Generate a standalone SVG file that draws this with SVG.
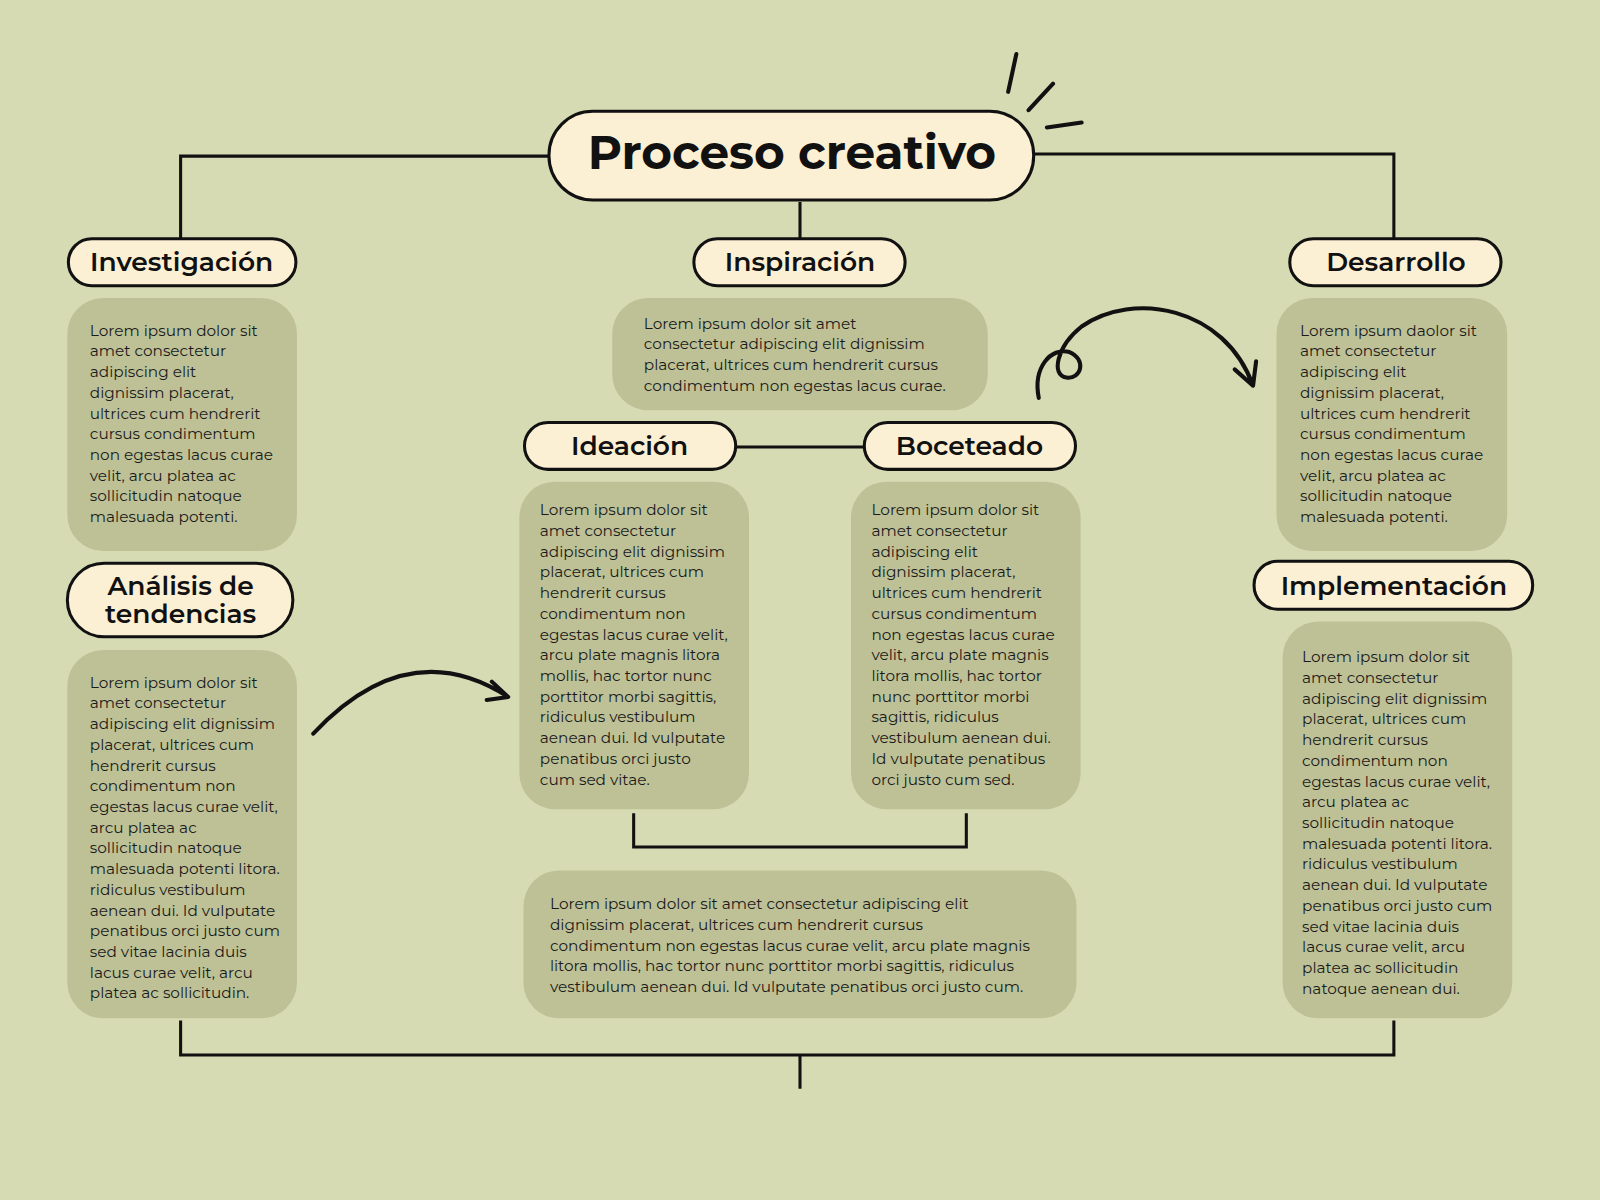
<svg xmlns="http://www.w3.org/2000/svg" width="1600" height="1200" viewBox="0 0 1600 1200">
<defs><style>
.pill{fill:#fcf0d4;stroke:#111;stroke-width:3}
.box{fill:#bec196}
.h{font-family:"Montserrat","Noto Sans","Liberation Sans",sans-serif;font-weight:600;font-size:26px;fill:#111;text-anchor:middle}
.t{font-family:"Montserrat","Noto Sans","Liberation Sans",sans-serif;font-size:15px;fill:#1a1a1a}
.ln{fill:none;stroke:#111;stroke-width:3}
.cv{fill:none;stroke:#111;stroke-width:4;stroke-linecap:round;stroke-linejoin:round}
</style></defs>
<rect width="1600" height="1200" fill="#d7dbb3"/>
<g transform="scale(1.0204)">
<g id="connectors">
<path class="ln" d="M538,153 H177 V234 M1013,151 H1366 V234 M784,198 V234 M721,438 H847 M621,797 V830 H947 V797 M177,1000 V1034 H1366 V1000 M784,1034 V1067"/>
<path class="cv" d="M307,719 Q400,620 498,683 M482,668 L498,683 L477,686"/>
<path class="cv" d="M1018,390 C1012,360 1030,340 1048,345 C1065,352 1060,372 1045,370 C1030,368 1035,340 1060,320 C1110,285 1200,300 1228,378 M1210,362 L1228,378 L1231,354"/>
<path class="cv" d="M996,53 L988,90 M1032,82 L1008,108 M1026,125 L1060,120"/>
</g>
<g id="title"><rect class="pill" x="538" y="109" width="475" height="87" rx="43"/><text class="h" x="776" y="166" style="font-size:46px;font-weight:700">Proceso creativo</text></g>
<g id="investigacion"><rect class="pill" x="67" y="234" width="223" height="46" rx="23"/><text class="h" x="178" y="266">Investigación</text>
<rect class="box" x="66" y="292" width="225" height="248" rx="35"/>
<text class="t" x="88" y="329"><tspan x="88">Lorem ipsum dolor sit</tspan><tspan x="88" dy="20.3">amet consectetur</tspan><tspan x="88" dy="20.3">adipiscing elit</tspan><tspan x="88" dy="20.3">dignissim placerat,</tspan><tspan x="88" dy="20.3">ultrices cum hendrerit</tspan><tspan x="88" dy="20.3">cursus condimentum</tspan><tspan x="88" dy="20.3">non egestas lacus curae</tspan><tspan x="88" dy="20.3">velit, arcu platea ac</tspan><tspan x="88" dy="20.3">sollicitudin natoque</tspan><tspan x="88" dy="20.3">malesuada potenti.</tspan></text></g>
<g id="analisis"><rect class="pill" x="66" y="552" width="221" height="72" rx="36"/><text class="h" x="177" y="583"><tspan x="177">Análisis de</tspan></text><text class="h" x="177" y="611">tendencias</text>
<rect class="box" x="66" y="637" width="225" height="361" rx="35"/>
<text class="t" x="88" y="674"><tspan x="88">Lorem ipsum dolor sit</tspan><tspan x="88" dy="20.3">amet consectetur</tspan><tspan x="88" dy="20.3">adipiscing elit dignissim</tspan><tspan x="88" dy="20.3">placerat, ultrices cum</tspan><tspan x="88" dy="20.3">hendrerit cursus</tspan><tspan x="88" dy="20.3">condimentum non</tspan><tspan x="88" dy="20.3">egestas lacus curae velit,</tspan><tspan x="88" dy="20.3">arcu platea ac</tspan><tspan x="88" dy="20.3">sollicitudin natoque</tspan><tspan x="88" dy="20.3">malesuada potenti litora.</tspan><tspan x="88" dy="20.3">ridiculus vestibulum</tspan><tspan x="88" dy="20.3">aenean dui. Id vulputate</tspan><tspan x="88" dy="20.3">penatibus orci justo cum</tspan><tspan x="88" dy="20.3">sed vitae lacinia duis</tspan><tspan x="88" dy="20.3">lacus curae velit, arcu</tspan><tspan x="88" dy="20.3">platea ac sollicitudin.</tspan></text></g>
<g id="inspiracion"><rect class="pill" x="680" y="234" width="207" height="46" rx="23"/><text class="h" x="784" y="266">Inspiración</text>
<rect class="box" x="600" y="292" width="368" height="110" rx="35"/>
<text class="t" x="631" y="322"><tspan x="631">Lorem ipsum dolor sit amet</tspan><tspan x="631" dy="20.3">consectetur adipiscing elit dignissim</tspan><tspan x="631" dy="20.3">placerat, ultrices cum hendrerit cursus</tspan><tspan x="631" dy="20.3">condimentum non egestas lacus curae.</tspan></text></g>
<g id="ideacion"><rect class="pill" x="514" y="414" width="207" height="46" rx="23"/><text class="h" x="617" y="446">Ideación</text>
<rect class="box" x="509" y="472" width="225" height="321" rx="35"/>
<text class="t" x="529" y="505"><tspan x="529">Lorem ipsum dolor sit</tspan><tspan x="529" dy="20.3">amet consectetur</tspan><tspan x="529" dy="20.3">adipiscing elit dignissim</tspan><tspan x="529" dy="20.3">placerat, ultrices cum</tspan><tspan x="529" dy="20.3">hendrerit cursus</tspan><tspan x="529" dy="20.3">condimentum non</tspan><tspan x="529" dy="20.3">egestas lacus curae velit,</tspan><tspan x="529" dy="20.3">arcu plate magnis litora</tspan><tspan x="529" dy="20.3">mollis, hac tortor nunc</tspan><tspan x="529" dy="20.3">porttitor morbi sagittis,</tspan><tspan x="529" dy="20.3">ridiculus vestibulum</tspan><tspan x="529" dy="20.3">aenean dui. Id vulputate</tspan><tspan x="529" dy="20.3">penatibus orci justo</tspan><tspan x="529" dy="20.3">cum sed vitae.</tspan></text></g>
<g id="boceteado"><rect class="pill" x="847" y="414" width="207" height="46" rx="23"/><text class="h" x="950" y="446">Boceteado</text>
<rect class="box" x="834" y="472" width="225" height="321" rx="35"/>
<text class="t" x="854" y="505"><tspan x="854">Lorem ipsum dolor sit</tspan><tspan x="854" dy="20.3">amet consectetur</tspan><tspan x="854" dy="20.3">adipiscing elit</tspan><tspan x="854" dy="20.3">dignissim placerat,</tspan><tspan x="854" dy="20.3">ultrices cum hendrerit</tspan><tspan x="854" dy="20.3">cursus condimentum</tspan><tspan x="854" dy="20.3">non egestas lacus curae</tspan><tspan x="854" dy="20.3">velit, arcu plate magnis</tspan><tspan x="854" dy="20.3">litora mollis, hac tortor</tspan><tspan x="854" dy="20.3">nunc porttitor morbi</tspan><tspan x="854" dy="20.3">sagittis, ridiculus</tspan><tspan x="854" dy="20.3">vestibulum aenean dui.</tspan><tspan x="854" dy="20.3">Id vulputate penatibus</tspan><tspan x="854" dy="20.3">orci justo cum sed.</tspan></text></g>
<g id="resumen"><rect class="box" x="513" y="853" width="542" height="145" rx="35"/>
<text class="t" x="539" y="891"><tspan x="539">Lorem ipsum dolor sit amet consectetur adipiscing elit</tspan><tspan x="539" dy="20.3">dignissim placerat, ultrices cum hendrerit cursus</tspan><tspan x="539" dy="20.3">condimentum non egestas lacus curae velit, arcu plate magnis</tspan><tspan x="539" dy="20.3">litora mollis, hac tortor nunc porttitor morbi sagittis, ridiculus</tspan><tspan x="539" dy="20.3">vestibulum aenean dui. Id vulputate penatibus orci justo cum.</tspan></text></g>
<g id="desarrollo"><rect class="pill" x="1264" y="234" width="207" height="46" rx="23"/><text class="h" x="1368" y="266">Desarrollo</text>
<rect class="box" x="1251" y="292" width="226" height="248" rx="35"/>
<text class="t" x="1274" y="329"><tspan x="1274">Lorem ipsum daolor sit</tspan><tspan x="1274" dy="20.3">amet consectetur</tspan><tspan x="1274" dy="20.3">adipiscing elit</tspan><tspan x="1274" dy="20.3">dignissim placerat,</tspan><tspan x="1274" dy="20.3">ultrices cum hendrerit</tspan><tspan x="1274" dy="20.3">cursus condimentum</tspan><tspan x="1274" dy="20.3">non egestas lacus curae</tspan><tspan x="1274" dy="20.3">velit, arcu platea ac</tspan><tspan x="1274" dy="20.3">sollicitudin natoque</tspan><tspan x="1274" dy="20.3">malesuada potenti.</tspan></text></g>
<g id="implementacion"><rect class="pill" x="1229" y="550" width="273" height="47" rx="23"/><text class="h" x="1366" y="583">Implementación</text>
<rect class="box" x="1257" y="609" width="225" height="389" rx="35"/>
<text class="t" x="1276" y="649"><tspan x="1276">Lorem ipsum dolor sit</tspan><tspan x="1276" dy="20.3">amet consectetur</tspan><tspan x="1276" dy="20.3">adipiscing elit dignissim</tspan><tspan x="1276" dy="20.3">placerat, ultrices cum</tspan><tspan x="1276" dy="20.3">hendrerit cursus</tspan><tspan x="1276" dy="20.3">condimentum non</tspan><tspan x="1276" dy="20.3">egestas lacus curae velit,</tspan><tspan x="1276" dy="20.3">arcu platea ac</tspan><tspan x="1276" dy="20.3">sollicitudin natoque</tspan><tspan x="1276" dy="20.3">malesuada potenti litora.</tspan><tspan x="1276" dy="20.3">ridiculus vestibulum</tspan><tspan x="1276" dy="20.3">aenean dui. Id vulputate</tspan><tspan x="1276" dy="20.3">penatibus orci justo cum</tspan><tspan x="1276" dy="20.3">sed vitae lacinia duis</tspan><tspan x="1276" dy="20.3">lacus curae velit, arcu</tspan><tspan x="1276" dy="20.3">platea ac sollicitudin</tspan><tspan x="1276" dy="20.3">natoque aenean dui.</tspan></text></g>
</g>
</svg>
